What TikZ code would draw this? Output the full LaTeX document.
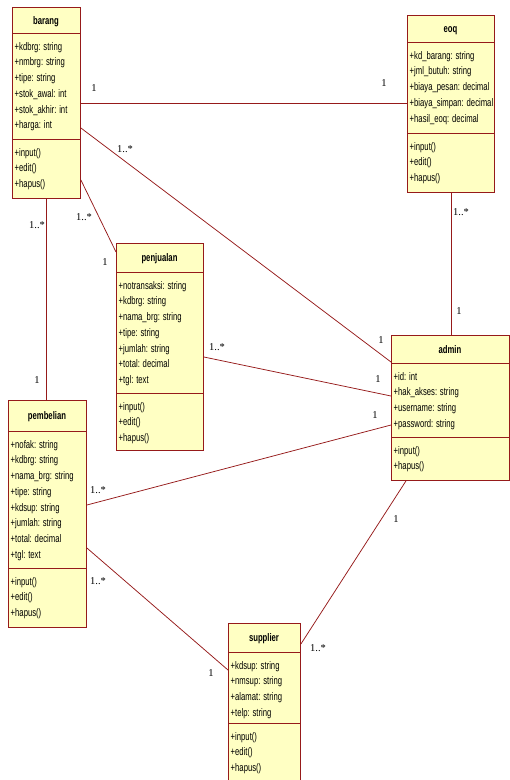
\documentclass[tikz,border=0pt]{standalone}
\usepackage{fontspec}
\setmainfont{Liberation Serif}
\newfontfamily\classfont[FakeStretch=0.7]{Liberation Sans}
\definecolor{umlred}{HTML}{961A1A}
\definecolor{umlfill}{HTML}{FFFFC3}
\tikzset{
  classbox/.style={draw=umlred, fill=umlfill, line width=0.9pt, inner sep=0pt, anchor=north west},
  classsep/.style={draw=umlred, line width=0.9pt},
  member/.style={font=\classfont\fontsize{11}{12}\selectfont, anchor=base west, inner sep=0pt},
  classtitle/.style={font=\classfont\bfseries\fontsize{11}{12}\selectfont, anchor=base, inner sep=0pt},
  assoc/.style={draw=umlred, line width=0.75pt},
  mult/.style={font=\fontsize{10.5}{12}\selectfont, anchor=base, inner sep=0pt},
}
% #1 name, #2 x1, #3 y1, #4 x2, #5 y2, #6 header line, #7 divider, #8 title
\newcommand\classframe[8]{%
  \node[classbox, minimum width={#4-#2}, minimum height={#5-#3}] (#1) at (#2,#3) {};
  \draw[classsep] (#2,#6) -- (#4,#6);
  \draw[classsep] (#2,#7) -- (#4,#7);
  \node[classtitle] (#1-title) at ({(#2+#4)/2},{(#3+#6)/2+4}) {#8};
}
% #1 name prefix, #2 x, #3 separator y, #4 list
\newcommand\classlines[4]{%
  \foreach \txt [count=\i] in {#4}
    \node[member] (#1-\i) at (#2+2.5, {#3+17.2+(\i-1)*15.7}) {\txt};
}
\begin{document}
\begin{tikzpicture}[x=1pt,y=-1pt]
\useasboundingbox (0,0) rectangle (510,780);
\clip (0,0) rectangle (510,780);
\fill[white] (0,0) rectangle (510,780);

\classframe{barang}{12}{7}{80}{198}{33}{139}{barang}
\classframe{eoq}{407}{15}{494}{192}{42}{133}{eoq}
\classframe{penjualan}{116}{243}{203}{450}{272}{393}{penjualan}
\classframe{admin}{391}{335}{509}{480}{363}{437}{admin}
\classframe{pembelian}{8}{400}{86}{627}{431}{568}{pembelian}
\classframe{supplier}{228}{623}{300}{800}{652}{723}{supplier}

\classlines{barang-a}{12}{33}{+kdbrg: string,+nmbrg: string,+tipe: string,+stok\_awal: int,+stok\_akhir: int,+harga: int}
\classlines{barang-m}{12}{139}{+input(),+edit(),+hapus()}
\classlines{eoq-a}{407}{42}{+kd\_barang: string,+jml\_butuh: string,+biaya\_pesan: decimal,+biaya\_simpan: decimal,+hasil\_eoq: decimal}
\classlines{eoq-m}{407}{133}{+input(),+edit(),+hapus()}
\classlines{penjualan-a}{116}{272}{+notransaksi: string,+kdbrg: string,+nama\_brg: string,+tipe: string,+jumlah: string,+total: decimal,+tgl: text}
\classlines{penjualan-m}{116}{393}{+input(),+edit(),+hapus()}
\classlines{admin-a}{391}{363}{+id: int,+hak\_akses: string,+username: string,+password: string}
\classlines{admin-m}{391}{437}{+input(),+hapus()}
\classlines{pembelian-a}{8}{431}{+nofak: string,+kdbrg: string,+nama\_brg: string,+tipe: string,+kdsup: string,+jumlah: string,+total: decimal,+tgl: text}
\classlines{pembelian-m}{8}{568}{+input(),+edit(),+hapus()}
\classlines{supplier-a}{228}{652}{+kdsup: string,+nmsup: string,+alamat: string,+telp: string}
\classlines{supplier-m}{228}{723}{+input(),+edit(),+hapus()}

% associations
\draw[assoc] (barang.east |- 0,103) -- (eoq.west |- 0,103);
\draw[assoc] (barang.east |- 0,128) -- (admin.west |- 0,362);
\draw[assoc] (barang.east |- 0,180) -- (penjualan.west |- 0,252);
\draw[assoc] (barang.south -| 46,0) -- (pembelian.north -| 46,0);
\draw[assoc] (eoq.south -| 451,0) -- (admin.north -| 451,0);
\draw[assoc] (penjualan.east |- 0,357) -- (admin.west |- 0,396);
\draw[assoc] (pembelian.east |- 0,505) -- (admin.west |- 0,425);
\draw[assoc] (pembelian.east |- 0,548) -- (supplier.west |- 0,670);
\draw[assoc] (admin.south -| 406,0) -- (supplier.east |- 0,644);

% multiplicities
\node[mult] (m1a) at (94,91.5) {1};
\node[mult] (m1b) at (384,86.5) {1};
\node[mult] (m2a) at (125,152.5) {1..*};
\node[mult] (m2b) at (381,343.5) {1};
\node[mult] (m3a) at (84,220.5) {1..*};
\node[mult] (m3b) at (105,265.5) {1};
\node[mult] (m4a) at (37,228.5) {1..*};
\node[mult] (m4b) at (37,383.5) {1};
\node[mult] (m5a) at (461,215.5) {1..*};
\node[mult] (m5b) at (459,314.5) {1};
\node[mult] (m6a) at (217,350.5) {1..*};
\node[mult] (m6b) at (378,382.5) {1};
\node[mult] (m7a) at (98,493.5) {1..*};
\node[mult] (m7b) at (375,418.5) {1};
\node[mult] (m8a) at (98,584.5) {1..*};
\node[mult] (m8b) at (211,676.5) {1};
\node[mult] (m9a) at (396,522.5) {1};
\node[mult] (m9b) at (318,651.5) {1..*};
\end{tikzpicture}
\end{document}
